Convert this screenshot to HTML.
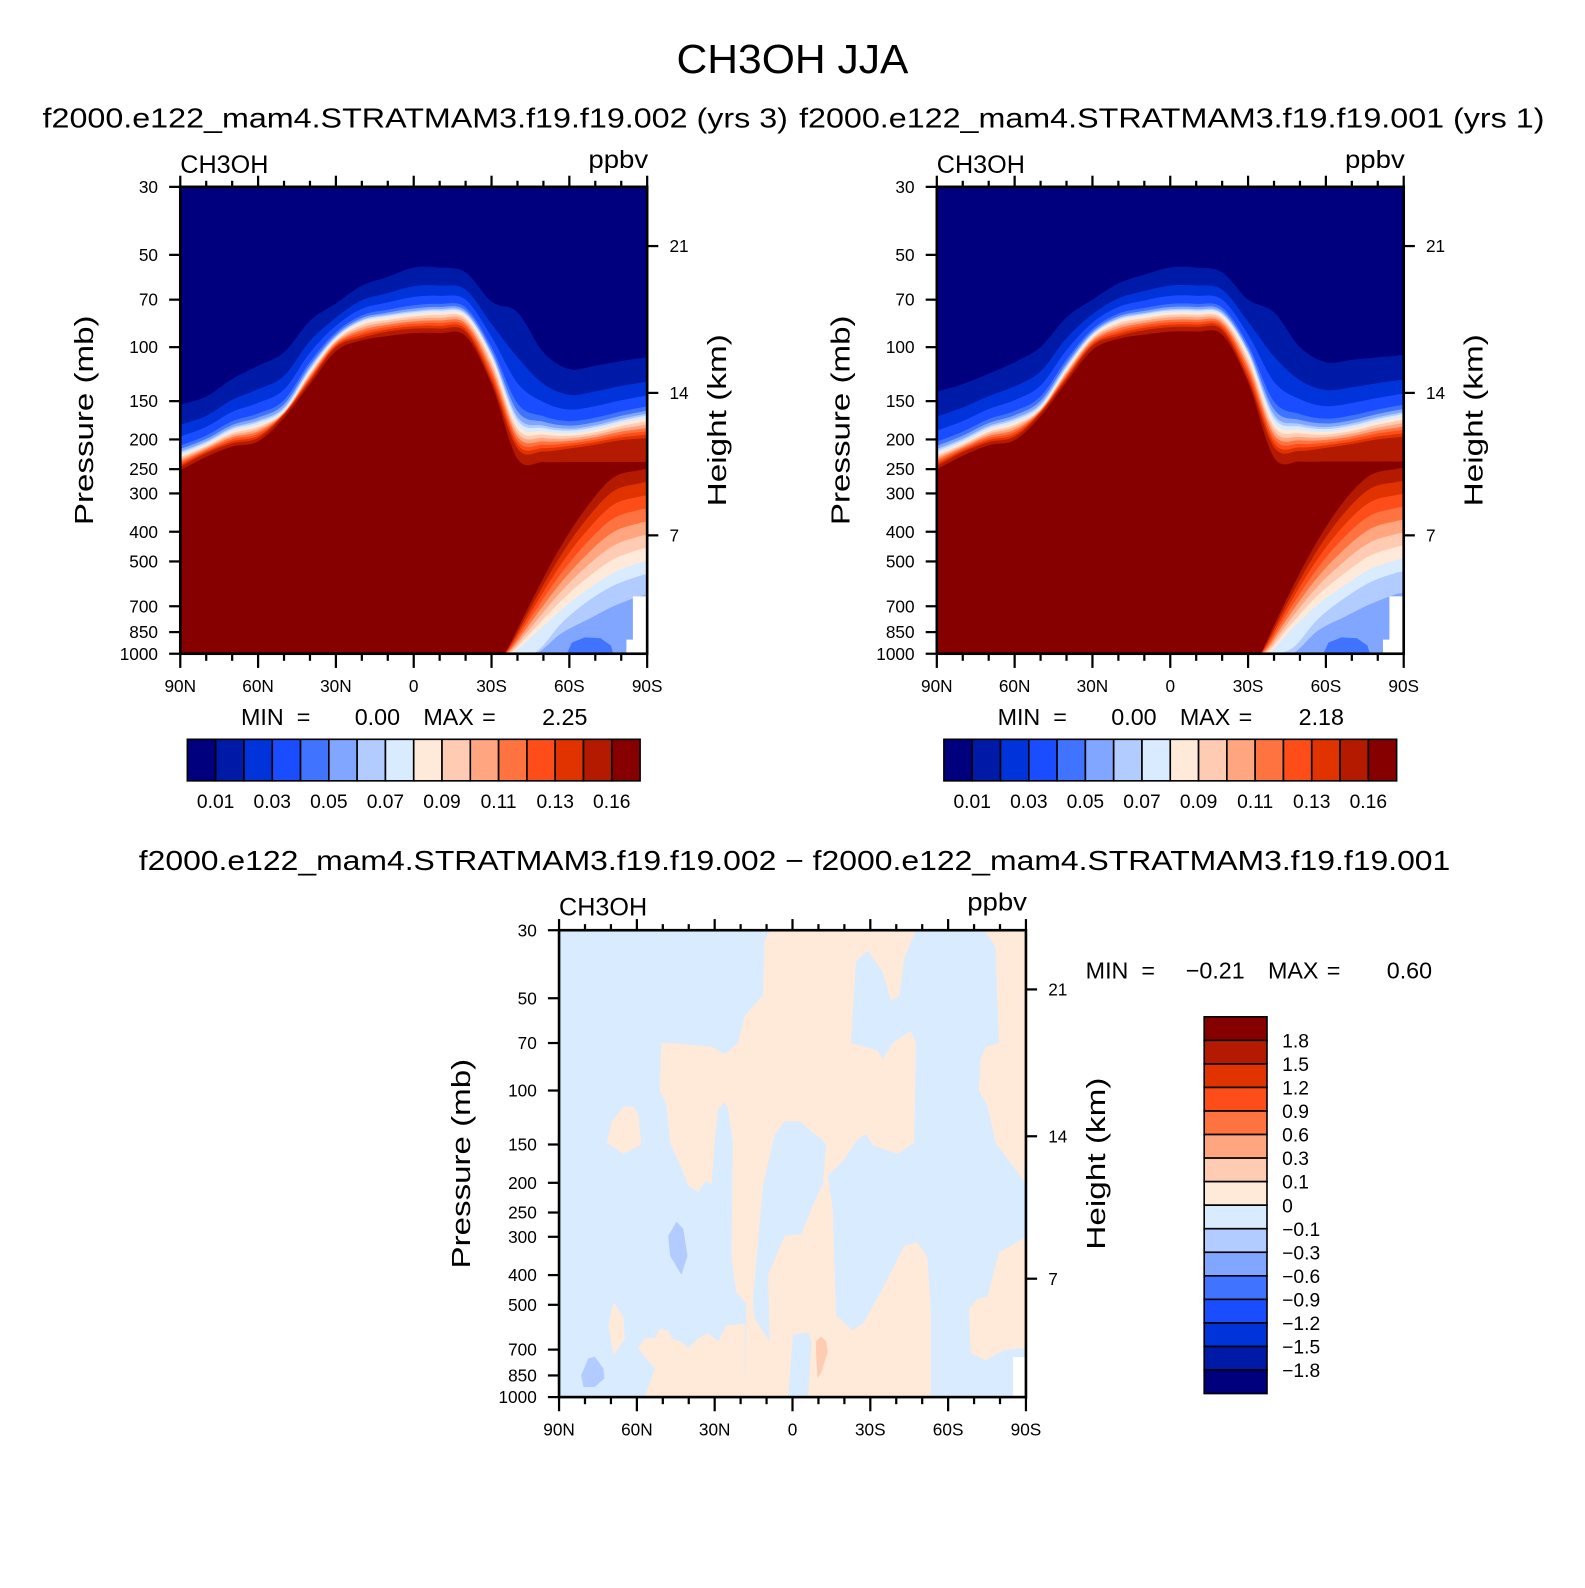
<!DOCTYPE html>
<html><head><meta charset="utf-8"><title>CH3OH JJA</title>
<style>
html,body{margin:0;padding:0;background:#fff;}
svg{display:block;}
text{font-family:"Liberation Sans",Arial,sans-serif;fill:#000;}
</style></head>
<body>
<svg id="fig" xmlns="http://www.w3.org/2000/svg" width="1585" height="1588" viewBox="0 0 1565 1568" preserveAspectRatio="none">
<rect x="0" y="0" width="1565" height="1568" fill="#fff"/>
<text x="668" y="72" font-size="40" textLength="229" lengthAdjust="spacingAndGlyphs">CH3OH JJA</text>
<text x="42" y="126" font-size="27" textLength="736" lengthAdjust="spacingAndGlyphs">f2000.e122_mam4.STRATMAM3.f19.f19.002 (yrs 3)</text>
<text x="789" y="126" font-size="27" textLength="736" lengthAdjust="spacingAndGlyphs">f2000.e122_mam4.STRATMAM3.f19.f19.001 (yrs 1)</text>
<text x="137" y="859" font-size="27" textLength="1295" lengthAdjust="spacingAndGlyphs">f2000.e122_mam4.STRATMAM3.f19.f19.002 − f2000.e122_mam4.STRATMAM3.f19.f19.001</text>
<g id="layer"></g>
</svg>
<script>
// ---------- data ----------
const COLS = ['#00007f','#001aa8','#0033d9','#1a4dff','#4073ff','#80a6ff','#b3ccff','#d9ebff','#ffead9','#ffccb3','#ffa680','#ff7340','#ff4d1a','#e03300','#b31a00','#870000'];
const LATS = [90,80,70,60,50,40,30,20,10,0,-10,-20,-30,-40,-50,-60,-70,-80,-90];
// panel 1 (002) boundaries, hPa
const p1_b1  = [154,145,127,115,104,82,72,63,59,55,55,57,71,77,104,118,115,111,108];
const p1_b8  = [225,208,188,179,162,120,94,83,80,78,77,79,108,179,188,191,186,177,170];
const p1_b14 = [246,222,206,198,166,129,100,93,89,87,87,89,129,214,219,214,208,201,198];
const p1_b15 = [252,228,211,203,170,132,103,95,92,90,90,92,132,231,237,237,237,237,237];
// panel 2 (001)
const p2_b1  = [140,132,122,112,100,80,70,62,58,55,55,57,70,77,100,112,110,108,106];
const p2_b8  = [222,205,186,176,158,118,92,82,79,77,77,79,106,176,186,189,184,175,168];
const p2_b14 = [244,220,204,196,164,127,99,92,88,86,86,88,127,212,218,213,207,200,196];
const p2_b15 = [250,226,209,201,168,130,102,94,91,89,89,91,130,229,236,236,236,236,236];
// lower southern-hemisphere structure
const LOW_LATS = [-35,-38,-47,-57,-67,-77,-87,-90];
const p1_c15 = [1000,900,633,442,330,266,252,250];
const p1_c8  = [1000,1000,857,718,617,545,505,500];
const p1_c7  = [1000,1000,990,795,675,600,558,550];
const p1_c6  = [1000,1000,1000,857,774,700,650,645];
const p2_c15 = [1000,880,610,425,318,262,250,248];
const p2_c8  = [1000,1000,830,690,600,530,495,490];
const p2_c7  = [1000,1000,960,770,660,585,545,540];
const p2_c6  = [1000,1000,1000,840,760,690,640,635];
const blob_lowblue = [[-59,1000],[-61,920],[-66,885],[-72,890],[-76,940],[-77,1000]];
const missing_sh = [[-82,1000],[-82,900],[-84.5,900],[-84.5,650],[-90,650],[-90,1000]];
// difference panel regions [lat, hPa]
const diff_pos_main = [[8.1,30],[-47.6,30],[-43.1,37],[-41.2,49],[-38,51],[-34.8,41],[-29,35],[-24.5,38],[-22.5,70],[-32.8,74],[-34.8,79],[-38.6,70],[-45.6,64],[-47.6,70],[-46.9,148],[-40.5,161],[-31,151],[-28.4,139],[-25.1,144],[-20,168],[-13.6,189],[-15.5,243],[-16.1,352],[-16.8,541],[-23.2,607],[-27.7,569],[-35.4,431],[-43.1,321],[-48.2,313],[-52.1,352],[-53.3,515],[-53.3,1000],[18.4,1000],[17.8,496],[21.7,454],[23.5,352],[23,148],[24.8,115],[26.1,109],[28.7,115],[30,148],[31.2,204],[33.2,196],[36.4,214],[40.2,204],[42.8,179],[47.2,148],[48.5,112],[51.1,100],[50.5,70],[46.6,70],[31.2,72],[26.1,76],[21,70],[18.4,57],[11.4,49],[10.7,32]];
const diff_neg_column = [[11.4,204],[6.9,140],[3,126],[-2.7,126],[-11,144],[-13,150],[-11.7,201],[-7.3,243],[-3.4,294],[3,298],[9.4,399],[8.8,659],[14.6,555],[15.3,490],[13.3,313]];
const diff_neg_strip = [[-0.1,626],[-6,615],[-7.3,659],[-6,1000],[1.7,1000],[0.5,748]];
const diff_pos_lowleft = [[59.5,693],[56.9,643],[53.1,643],[51.1,599],[47.9,607],[46.6,643],[42.8,659],[40.2,693],[36.4,643],[32.5,618],[28.7,659],[25.5,584],[18.4,576],[18.4,1000],[56.9,1000],[53.1,807]];
const diff_pos_blob_nh = [[71.6,148],[69.7,126],[65.2,113],[61.3,113],[59.5,119],[58.2,150],[65.2,161]];
const diff_pos_strip_nh = [[71,584],[69,490],[65.2,548],[64.6,643],[69,730]];
const diff_pos_sh_top = [[-73.9,30],[-90,30],[-90,201],[-78.3,148],[-75.2,112],[-71.9,100],[-72.6,79],[-74.5,72],[-79.6,70],[-78.3,34]];
const diff_pos_sh_low = [[-68,515],[-71.3,477],[-75.2,471],[-79.6,337],[-90,301],[-90,693],[-81.6,701],[-74.5,758],[-68.7,720]];
const diff_neg2_a = [[47.9,298],[44.7,268],[42.1,283],[40.5,346],[42.8,399],[47.2,346]];
const diff_neg2_b = [[81.5,849],[78.7,748],[76.2,739],[72.9,807],[72.5,870],[76.2,927],[80.6,927]];
const diff_pos2_blob = [[-9.1,659],[-11,634],[-13,659],[-13.6,712],[-11,835],[-9.7,870],[-9.1,730]];
const diff_missing = [[-85,740],[-90,740],[-90,1000],[-85,1000]];
// axes / legends
const P_TICKS = [30,50,70,100,150,200,250,300,400,500,700,850,1000];
const LAT_TICKS = [90,60,30,0,-30,-60,-90];
const LAT_LABELS = ['90N','60N','30N','0','30S','60S','90S'];
const H_KM = [21,14,7];
const H_P = [46.8,141.0,411.0];
const CB_LABELS = ['0.01','0.03','0.05','0.07','0.09','0.11','0.13','0.16'];
const DIFF_LABELS = ['1.8','1.5','1.2','0.9','0.6','0.3','0.1','0','−0.1','−0.3','−0.6','−0.9','−1.2','−1.5','−1.8'];
const BAND_FRAC = [0,0.4,0.63,0.81,0.88,0.93,0.96,1];

// ---------- helpers ----------
const NS = 'http://www.w3.org/2000/svg';
const layer = document.getElementById('layer');
function add(parent, tag, attrs, name, inter) {
  const el = document.createElementNS(NS, tag);
  for (const k in attrs) el.setAttribute(k, attrs[k]);
  
  
  parent.appendChild(el);
  return el;
}
function txt(parent, x, y, s, size, name, anchor, extra) {
  const a = Object.assign({x:x, y:y, 'font-size':size, 'text-anchor':anchor||'start'}, extra||{});
  const t = add(parent, 'text', a, name, false);
  t.textContent = s;
  return t;
}
function axis(x0, y0, w, h) {
  return {
    x0, y0, w, h,
    xs: lat => x0 + (90 - lat) / 180 * w,
    ys: p => y0 + Math.log10(Math.min(p, 1000) / 30) / Math.log10(1000 / 30) * h
  };
}
function smoothPath(pts) {
  let d = '';
  for (let i = 0; i < pts.length - 1; i++) {
    const p0 = pts[i - 1] || pts[i], p1 = pts[i], p2 = pts[i + 1], p3 = pts[i + 2] || p2;
    const c1x = p1[0] + (p2[0] - p0[0]) / 6, c1y = p1[1] + (p2[1] - p0[1]) / 6;
    const c2x = p2[0] - (p3[0] - p1[0]) / 6, c2y = p2[1] - (p3[1] - p1[1]) / 6;
    d += ` C${c1x.toFixed(1)},${c1y.toFixed(1)} ${c2x.toFixed(1)},${c2y.toFixed(1)} ${p2[0].toFixed(1)},${p2[1].toFixed(1)}`;
  }
  return d;
}
function lerpLog(a, b, f) { return a.map((v, i) => Math.pow(10, Math.log10(v) * (1 - f) + Math.log10(b[i]) * f)); }
function polyD(ax, arr) { return 'M' + arr.map(q => ax.xs(q[0]).toFixed(1) + ',' + ax.ys(q[1]).toFixed(1)).join(' L') + ' Z'; }

let clipN = 0;
function drawClimPanel(ax, b1, b8, b14, b15, c15, c8, c7, c6, pfx) {
  const id = 'clip' + (clipN++);
  const cp = add(layer, 'clipPath', {id}, pfx + '-clip', false);
  add(cp, 'rect', {x:ax.x0, y:ax.y0, width:ax.w, height:ax.h}, pfx + '-clip-rect', false);
  const g = add(layer, 'g', {'clip-path':`url(#${id})`}, pfx + '-contours', false);
  add(g, 'rect', {x:ax.x0, y:ax.y0, width:ax.w, height:ax.h, fill:COLS[15]}, pfx + '-fill-max', false);
  const bounds = [];
  for (let k = 1; k <= 8; k++) bounds[k] = lerpLog(b1, b8, BAND_FRAC[k - 1]);
  for (let k = 9; k <= 14; k++) bounds[k] = lerpLog(b8, b14, (k - 8) / 6);
  bounds[15] = b15;
  for (let k = 15; k >= 1; k--) {
    const pts = LATS.map((lat, i) => [ax.xs(lat), ax.ys(bounds[k][i])]);
    const d = `M${ax.x0},${ax.y0 - 2} L${pts[0][0]},${pts[0][1]}` + smoothPath(pts) + ` L${ax.x0 + ax.w},${ax.y0 - 2} Z`;
    add(g, 'path', {d, fill:COLS[k - 1]}, pfx + '-upper-band-' + (k - 1), false);
  }
  const low = [];
  for (let k = 8; k <= 14; k++) low[k] = lerpLog(c8, c15, (k - 8) / 7);
  low[15] = c15; low[7] = c7; low[6] = c6;
  for (let k = 15; k >= 6; k--) {
    const pts = LOW_LATS.map((lat, i) => [ax.xs(lat), ax.ys(low[k][i])]);
    const yb = ax.y0 + ax.h + 2;
    const d = `M${pts[0][0]},${yb} L${pts[0][0]},${pts[0][1]}` + smoothPath(pts) + ` L${ax.x0 + ax.w + 2},${pts[pts.length-1][1]} L${ax.x0 + ax.w + 2},${yb} Z`;
    add(g, 'path', {d, fill:COLS[k - 1]}, pfx + '-lower-band-' + (k - 1), false);
  }
  add(g, 'path', {d:polyD(ax, blob_lowblue), fill:COLS[4]}, pfx + '-low-blob', false);
  add(g, 'path', {d:polyD(ax, missing_sh), fill:'#fff'}, pfx + '-missing-data', false);
}

function drawAxes(ax, pfx, leftLabelX, rightLabelX, titleY) {
  const g = add(layer, 'g', {}, pfx + '-axes', false);
  add(g, 'rect', {x:ax.x0, y:ax.y0, width:ax.w, height:ax.h, fill:'none', stroke:'#000', 'stroke-width':2.6}, pfx + '-frame', false);
  for (let lat = 90; lat >= -90; lat -= 10) {
    const major = lat % 30 === 0;
    const x = ax.xs(lat);
    add(g, 'line', {x1:x, x2:x, y1:ax.y0, y2:ax.y0 - (major ? 11 : 6), stroke:'#000', 'stroke-width':2.2}, pfx + '-top-tick', false);
    add(g, 'line', {x1:x, x2:x, y1:ax.y0 + ax.h, y2:ax.y0 + ax.h + (major ? 14 : 7), stroke:'#000', 'stroke-width':2.2}, pfx + '-bottom-tick', false);
  }
  LAT_TICKS.forEach((lat, i) => txt(g, ax.xs(lat), ax.y0 + ax.h + 38, LAT_LABELS[i], 17, pfx + '-x-tick-label', 'middle'));
  P_TICKS.forEach(p => {
    const y = ax.ys(p);
    add(g, 'line', {x1:ax.x0, x2:ax.x0 - 11, y1:y, y2:y, stroke:'#000', 'stroke-width':2.2}, pfx + '-y-tick', false);
    txt(g, ax.x0 - 22, y + 6, String(p), 17, pfx + '-y-tick-label', 'end');
  });
  H_KM.forEach((km, i) => {
    const y = ax.ys(H_P[i]);
    add(g, 'line', {x1:ax.x0 + ax.w, x2:ax.x0 + ax.w + 11, y1:y, y2:y, stroke:'#000', 'stroke-width':2.2}, pfx + '-height-tick', false);
    txt(g, ax.x0 + ax.w + 22, y + 6, String(km), 17, pfx + '-height-tick-label', 'start');
  });
  const cy = ax.y0 + ax.h / 2;
  txt(g, 0, 0, 'Pressure (mb)', 26, pfx + '-y-axis-title', 'middle', {transform:`translate(${leftLabelX},${cy}) rotate(-90)`, textLength:207, lengthAdjust:'spacingAndGlyphs'});
  txt(g, 0, 0, 'Height (km)', 26, pfx + '-height-axis-title', 'middle', {transform:`translate(${rightLabelX},${cy}) rotate(-90)`, textLength:170, lengthAdjust:'spacingAndGlyphs'});
  txt(g, ax.x0, titleY, 'CH3OH', 25, pfx + '-variable-label', 'start', {textLength:87, lengthAdjust:'spacingAndGlyphs'});
  txt(g, ax.x0 + ax.w + 1, titleY - 5, 'ppbv', 25, pfx + '-units-label', 'end', {textLength:59, lengthAdjust:'spacingAndGlyphs'});
}

function minmax(x, y, minV, maxV, pfx) {
  const g = add(layer, 'g', {}, pfx + '-min-max', false);
  txt(g, x, y, 'MIN', 23, pfx + '-min-label');
  txt(g, x + 55, y, '=', 23, pfx + '-min-equals');
  txt(g, x + 157, y, minV, 23, pfx + '-min-value', 'end');
  txt(g, x + 180, y, 'MAX', 23, pfx + '-max-label');
  txt(g, x + 238, y, '=', 23, pfx + '-max-equals');
  txt(g, x + 342, y, maxV, 23, pfx + '-max-value', 'end');
}

function hColorbar(x, y, w, h, pfx) {
  const g = add(layer, 'g', {}, pfx + '-colorbar', false);
  const bw = w / 16;
  COLS.forEach((c, i) => add(g, 'rect', {x:x + i * bw, y, width:bw, height:h, fill:c, stroke:'#000', 'stroke-width':1.6}, pfx + '-colorbar-box', false));
  CB_LABELS.forEach((s, i) => txt(g, x + (2 * i + 1) * bw, y + h + 27, s, 19, pfx + '-colorbar-label', 'middle'));
}

// ---------- panels ----------
const A1 = axis(178, 184.5, 461, 461);
const A2 = axis(925, 184.5, 461, 461);
const A3 = axis(552, 918.5, 461, 461);

drawClimPanel(A1, p1_b1, p1_b8, p1_b14, p1_b15, p1_c15, p1_c8, p1_c7, p1_c6, 'panel1');
drawAxes(A1, 'panel1', 92, 717, 171);
minmax(238, 716, '0.00', '2.25', 'panel1');
hColorbar(185, 730, 447, 41, 'panel1');

drawClimPanel(A2, p2_b1, p2_b8, p2_b14, p2_b15, p2_c15, p2_c8, p2_c7, p2_c6, 'panel2');
drawAxes(A2, 'panel2', 839, 1464, 171);
minmax(985, 716, '0.00', '2.18', 'panel2');
hColorbar(932, 730, 447, 41, 'panel2');

// difference panel
(function () {
  const ax = A3;
  const id = 'clipdiff';
  const cp = add(layer, 'clipPath', {id}, 'diff-clip', false);
  add(cp, 'rect', {x:ax.x0, y:ax.y0, width:ax.w, height:ax.h}, 'diff-clip-rect', false);
  const g = add(layer, 'g', {'clip-path':`url(#${id})`}, 'diff-contours', false);
  add(g, 'rect', {x:ax.x0, y:ax.y0, width:ax.w, height:ax.h, fill:COLS[7]}, 'diff-negative-background', false);
  const pos = [diff_pos_main, diff_pos_lowleft, diff_pos_blob_nh, diff_pos_strip_nh, diff_pos_sh_top, diff_pos_sh_low];
  pos.forEach(r => add(g, 'path', {d:polyD(ax, r), fill:COLS[8], 'stroke-linejoin':'round'}, 'diff-positive-region', false));
  [diff_neg_column, diff_neg_strip].forEach(r => add(g, 'path', {d:polyD(ax, r), fill:COLS[7]}, 'diff-negative-region', false));
  [diff_neg2_a, diff_neg2_b].forEach(r => add(g, 'path', {d:polyD(ax, r), fill:COLS[6]}, 'diff-negative-blob', false));
  add(g, 'path', {d:polyD(ax, diff_pos2_blob), fill:COLS[9]}, 'diff-positive-blob', false);
  add(g, 'path', {d:polyD(ax, diff_missing), fill:'#fff'}, 'diff-missing-data', false);
})();
drawAxes(A3, 'diff', 464, 1091, 904);
minmax(1072, 966, '−0.21', '0.60', 'diff');
(function () {
  const g = add(layer, 'g', {}, 'diff-colorbar', false);
  const x = 1189, y = 1004, w = 62, bh = 372 / 16;
  for (let i = 0; i < 16; i++) {
    add(g, 'rect', {x, y:y + i * bh, width:w, height:bh, fill:COLS[15 - i], stroke:'#000', 'stroke-width':1.6}, 'diff-colorbar-box', false);
  }
  DIFF_LABELS.forEach((s, i) => txt(g, 1266, y + (i + 1) * bh + 7, s, 19, 'diff-colorbar-label'));
})();
</script>
</body></html>
